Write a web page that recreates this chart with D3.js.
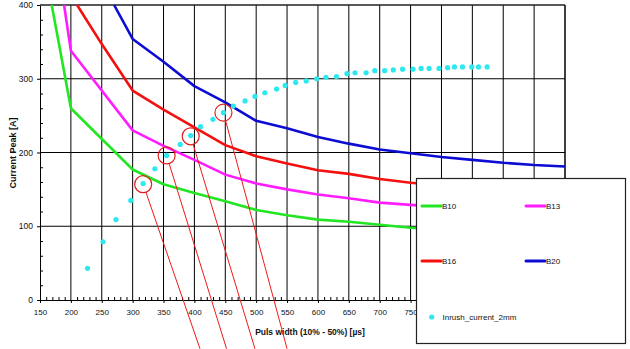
<!DOCTYPE html>
<html><head><meta charset="utf-8">
<script src="https://cdn.jsdelivr.net/npm/d3@7"></script>
<style>
html,body{margin:0;padding:0;background:#fff;}
svg{display:block;font-family:"Liberation Sans",Arial,sans-serif;}
</style></head>
<body>
<svg id="chart" width="630" height="349"></svg>
<script>
// ---- data ----
const xTicks = [150,200,250,300,350,400,450,500,550,600,650,700,750,800,850,900,950,1000];
const xTickLabels = ["150","200","250","300","350","400","450","500","550","600","650","700","750","","","","",""];
const yTicks = [0,100,200,300,400];

const b10X = [169,200,300,350,400,450,500,550,600,650,700,750,850,1000];
const b10Y = [400,260,177,157,145,134,122,115,109,106,102,98,93,87];
const b13X = [189,200,300,350,400,450,500,550,600,650,700,750,850,1000];
const b13Y = [400,338,230,209,190,170,158,150,143,138,132,129,123,116];
const b16X = [210,250,300,350,400,450,500,550,600,650,700,750,850,1000];
const b16Y = [400,347,284,258,234,210,195,185,176,171,164,159,152,144];
const b20X = [270,300,350,400,450,500,550,600,650,700,750,800,850,900,950,1000];
const b20Y = [400,354,323,290,268,243,233,221,212,204,199,194,190,186,183,181];

const inrushX = [227,252,273,297,317,336,355,377,394,410,430,447,463,482,498,514,533,547,564,581,598,613,630,647,660,678,692,708,722,737,754,767,780,796,810,821,834,849,860,874];
const inrushY = [43,79,109,135,158,178,196,211,223,235,245,254,263,270,276,281,286,291,295,297,300,302,303,307,308,308,311,311,312,313,313,314,314,314,315,316,316,316,316,316];

// annotation: circled points and pointer lines (data coordinates)
const markX = [317,355,394,447];
const markY = [157,196,222,254];
const pointerEndX = [409,452,498,550];
const pointerEndY = [-66,-66,-66,-66];

const seriesNames = ["B10","B13","B16","B20"];
const seriesColors = ["#22e622","#ff1cff","#f51010","#0c0cd2"];
const dotName = "Inrush_current_2mm";
const dotColor = "#2ee8f0";

// ---- chart ----
const svg = d3.select("#chart");
const x = d3.scaleLinear().domain([150,1000]).range([40,565]);
const y = d3.scaleLinear().domain([0,400]).range([300,5]);
const font = '"Liberation Sans",Arial,sans-serif';

// grid
const grid = svg.append("g");
grid.selectAll("line.v").data(xTicks.slice(1)).join("line")
  .attr("x1",d=>x(d)).attr("x2",d=>x(d)).attr("y1",y(0)).attr("y2",y(400))
  .attr("stroke","#000").attr("stroke-width",1);
grid.selectAll("line.h").data(yTicks.slice(1)).join("line")
  .attr("x1",x(150)).attr("x2",x(1000)).attr("y1",d=>y(d)).attr("y2",d=>y(d))
  .attr("stroke","#000").attr("stroke-width",1);

// minor ticks (inside)
const xMinor = d3.range(150,1001,10).filter(v=>v%50!==0);
const yMinor = d3.range(0,401,20).filter(v=>v%100!==0);
svg.append("g").attr("transform",`translate(0,${y(0)})`)
  .call(d3.axisBottom(x).tickValues(xMinor).tickSizeInner(-3).tickSizeOuter(0).tickFormat(""))
  .call(g=>g.select(".domain").remove())
  .selectAll("line").attr("stroke","#000");
svg.append("g").attr("transform",`translate(${x(150)},0)`)
  .call(d3.axisLeft(y).tickValues(yMinor).tickSizeInner(-3).tickSizeOuter(0).tickFormat(""))
  .call(g=>g.select(".domain").remove())
  .selectAll("line").attr("stroke","#000");

// major axes
const xAxis = svg.append("g").attr("transform",`translate(0,${y(0)})`)
  .call(d3.axisBottom(x).tickValues(xTicks).tickSizeInner(3).tickSizeOuter(0).tickPadding(6)
    .tickFormat((d,i)=>xTickLabels[i]));
xAxis.select(".domain").attr("stroke","#000");
xAxis.selectAll("line").attr("stroke","#000");
xAxis.selectAll("text").attr("font-size",8).attr("font-family",font).attr("fill","#111");

const yAxis = svg.append("g").attr("transform",`translate(${x(150)},0)`)
  .call(d3.axisLeft(y).tickValues(yTicks).tickSizeInner(3).tickSizeOuter(0).tickPadding(4));
yAxis.select(".domain").attr("stroke","#000");
yAxis.selectAll("line").attr("stroke","#000");
yAxis.selectAll("text").attr("font-size",8.5).attr("font-family",font).attr("fill","#111");

// frame top/right
svg.append("line").attr("x1",x(150)).attr("x2",x(1000)).attr("y1",y(400)).attr("y2",y(400)).attr("stroke","#333");
svg.append("line").attr("x1",x(1000)).attr("x2",x(1000)).attr("y1",y(400)).attr("y2",y(0)).attr("stroke","#000");

// titles
svg.append("text").attr("x",310).attr("y",335).attr("text-anchor","middle")
  .attr("font-size",8.5).attr("font-weight","bold").attr("font-family",font).attr("fill","#111")
  .text("Puls width (10% - 50%) [µs]");
svg.append("text").attr("transform","translate(16,153) rotate(-90)").attr("text-anchor","middle")
  .attr("font-size",9).attr("font-weight","bold").attr("font-family",font).attr("fill","#111")
  .text("Current Peak [A]");

// curves
const series = [[b10X,b10Y],[b13X,b13Y],[b16X,b16Y],[b20X,b20Y]];
const line = d3.line().x(d=>x(d[0])).y(d=>y(d[1]));
series.forEach((s,i)=>{
  const pts = s[0].map((v,j)=>[v,s[1][j]]);
  svg.append("path").datum(pts).attr("d",line)
    .attr("fill","none").attr("stroke",seriesColors[i]).attr("stroke-width",2.6)
    .attr("stroke-linejoin","round");
});

// inrush dots
svg.append("g").selectAll("circle").data(inrushX.map((v,j)=>[v,inrushY[j]])).join("circle")
  .attr("cx",d=>x(d[0])).attr("cy",d=>y(d[1])).attr("r",2.6).attr("fill",dotColor);

// annotation circles + pointer lines
const ann = svg.append("g");
markX.forEach((mx,i)=>{
  const cx = x(mx), cy = y(markY[i]);
  const ex = x(pointerEndX[i]), ey = y(pointerEndY[i]);
  const r = 8.5;
  const len = Math.hypot(ex-cx, ey-cy);
  const sx = cx + (ex-cx)/len*r, sy = cy + (ey-cy)/len*r;
  ann.append("circle").attr("cx",cx).attr("cy",cy).attr("r",r)
    .attr("fill","none").attr("stroke","#e02020").attr("stroke-width",1.2);
  ann.append("line").attr("x1",sx).attr("y1",sy).attr("x2",ex).attr("y2",ey)
    .attr("stroke","#f01818").attr("stroke-width",1);
});

// legend
const lg = svg.append("g");
lg.append("rect").attr("x",416.5).attr("y",178.5).attr("width",209).attr("height",165)
  .attr("fill","#fff").attr("stroke","#222").attr("stroke-width",1.2);
const legPos = [[422,206],[526,206],[422,261],[526,261]];
seriesNames.forEach((n,i)=>{
  const [lx,ly] = legPos[i];
  lg.append("line").attr("x1",lx).attr("x2",lx+19).attr("y1",ly).attr("y2",ly)
    .attr("stroke",seriesColors[i]).attr("stroke-width",3).attr("stroke-linecap","round");
  lg.append("text").attr("x",lx+20).attr("y",ly+3).attr("font-size",8).attr("font-family",font)
    .attr("fill","#111").text(n);
});
lg.append("circle").attr("cx",431.7).attr("cy",317).attr("r",2.6).attr("fill",dotColor);
lg.append("text").attr("x",442.5).attr("y",320).attr("font-size",8).attr("font-family",font)
  .attr("fill","#111").text(dotName);
</script>
</body></html>
